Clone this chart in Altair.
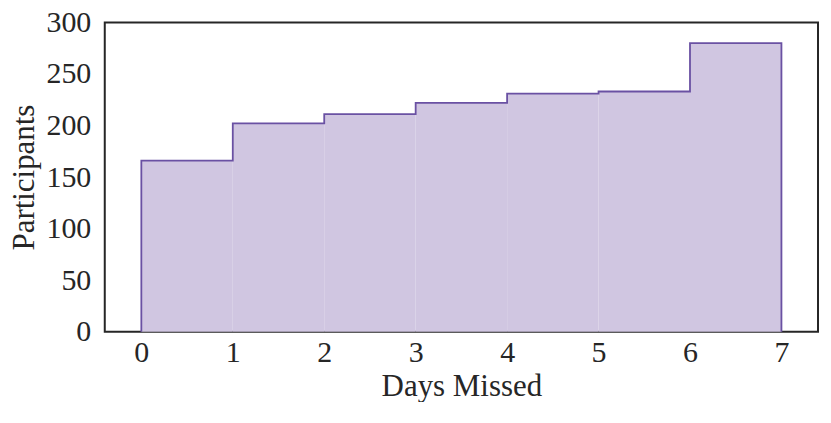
import altair as alt
import pandas as pd

days = [0, 1, 2, 3, 4, 5, 6]
counts = [166, 202, 211, 222, 231, 233, 280]
x_ticks = [0, 1, 2, 3, 4, 5, 6, 7]
y_ticks = [0, 50, 100, 150, 200, 250, 300]

FILL = "#d0c6e1"
STROKE = "#6a51a3"
FONT = "Liberation Serif"

bars = pd.DataFrame({"start": days, "end": [d + 1 for d in days], "count": counts})

# step outline built from the same arrays
ox = [days[0]] + days + [days[-1] + 1, days[-1] + 1]
oy = [0] + counts + [counts[-1], 0]
outline = pd.DataFrame({"x": ox, "y": oy, "o": list(range(len(ox)))})

xscale = alt.Scale(domain=[-0.4, 7.4], nice=False, zero=False)
yscale = alt.Scale(domain=[0, 300], nice=False)

xaxis = alt.Axis(values=x_ticks, format="d", title="Days Missed", grid=False, ticks=False, domain=False,
                 labelFont=FONT, labelFontSize=30, labelColor="#262626", labelPadding=6,
                 titleFont=FONT, titleFontSize=31, titleFontWeight="normal", titleColor="#262626",
                 titlePadding=4, labelFlush=False)
yaxis = alt.Axis(values=y_ticks, format="d", title="Participants", grid=False, ticks=False, domain=False,
                 labelFont=FONT, labelFontSize=30, labelColor="#262626", labelPadding=14,
                 titleFont=FONT, titleFontSize=31, titleFontWeight="normal", titleColor="#262626",
                 titlePadding=5, labelFlush=False)

rects = alt.Chart(bars).mark_rect(color=FILL, opacity=1).encode(
    x=alt.X("start:Q", scale=xscale, axis=xaxis),
    x2="end:Q",
    y=alt.Y("count:Q", scale=yscale, axis=yaxis),
    y2=alt.datum(0),
)

line = alt.Chart(outline).mark_line(interpolate="step-after", color=STROKE, strokeWidth=1.8).encode(
    x=alt.X("x:Q", scale=xscale),
    y=alt.Y("y:Q", scale=yscale),
    order="o:Q",
)

chart = (rects + line).properties(
    width=715, height=310,
    autosize=alt.AutoSizeParams(type="none"),
    padding={"left": 97, "top": 14, "right": 5, "bottom": 70},
).configure_view(stroke="#262626", strokeWidth=2)

chart.save("out.html", embed_options={"renderer": "svg", "actions": False})
